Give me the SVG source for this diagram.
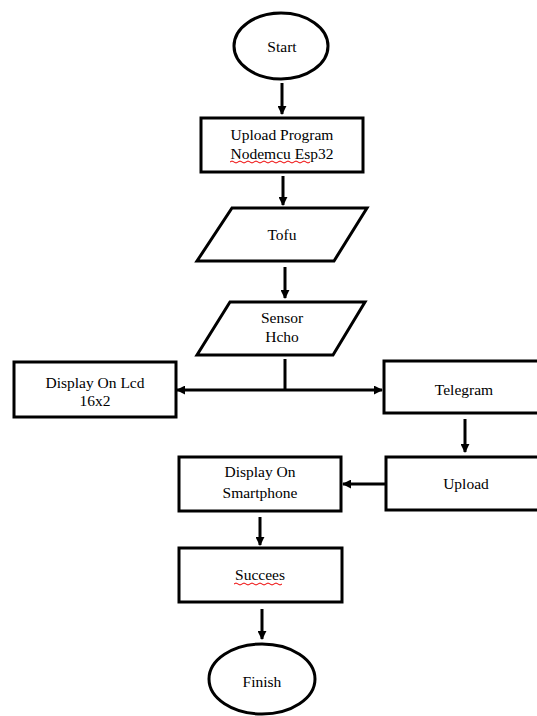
<svg xmlns="http://www.w3.org/2000/svg" width="537" height="716" viewBox="0 0 537 716">
<defs>
<marker id="ah" viewBox="0 0 10 10" refX="9" refY="5" markerWidth="3" markerHeight="3" orient="auto" markerUnits="strokeWidth">
<path d="M0,0 L10,5 L0,10 z" fill="#000"/>
</marker>
<style>
.s{fill:#fff;stroke:#000;stroke-width:3}
.t{font-family:"Liberation Serif","Times New Roman",serif;font-size:15.5px;fill:#000;text-anchor:middle}
.c{stroke:#000;stroke-width:3;fill:none}
.a{stroke:#000;stroke-width:3;fill:none;marker-end:url(#ah)}
.w{stroke:#e00;stroke-width:1;fill:none}
</style>
</defs>
<rect width="537" height="716" fill="#fff"/>
<g id="connectors">
<line class="a" x1="282" y1="83" x2="282" y2="114"/>
<line class="a" x1="283" y1="176" x2="283" y2="205"/>
<line class="a" x1="285" y1="267" x2="285" y2="298"/>
<line class="c" x1="285" y1="359" x2="285" y2="390"/>
<line class="a" x1="285" y1="390" x2="177" y2="390"/>
<line class="a" x1="285" y1="390" x2="382" y2="390"/>
<line class="a" x1="465" y1="419" x2="465" y2="452"/>
<line class="a" x1="386" y1="484" x2="343" y2="484"/>
<line class="a" x1="260" y1="517" x2="260" y2="545"/>
<line class="a" x1="262" y1="609" x2="262" y2="639"/>
</g>
<g id="start">
<ellipse class="s" cx="281" cy="46" rx="47" ry="33"/>
<text class="t" x="282" y="52">Start</text>
</g>
<g id="upload-program">
<rect class="s" x="201" y="118" width="162" height="54"/>
<text class="t" x="282" y="140">Upload Program</text>
<text class="t" x="282" y="159">Nodemcu Esp32</text>
<path class="w" d="M230,162 q2,-2 4,0 t4,0 t4,0 t4,0 t4,0 t4,0 t4,0 t4,0 t4,0 t4,0 t4,0 t4,0 t4,0 t4,0 t4,0 t4,0 t4,0 t4,0 t4,0 t4,0"/>
</g>
<g id="tofu">
<polygon class="s" points="232,208 367,208 334,261 197,261"/>
<text class="t" x="282" y="240">Tofu</text>
</g>
<g id="sensor">
<polygon class="s" points="230,302 365,302 333,355 197,355"/>
<text class="t" x="282" y="323">Sensor</text>
<text class="t" x="282" y="342">Hcho</text>
</g>
<g id="lcd">
<rect class="s" x="14" y="362" width="162" height="55"/>
<text class="t" x="95" y="388">Display On Lcd</text>
<text class="t" x="95" y="406">16x2</text>
</g>
<g id="telegram">
<rect class="s" x="384" y="361" width="160" height="52"/>
<text class="t" x="464" y="395">Telegram</text>
</g>
<g id="upload">
<rect class="s" x="386" y="457" width="160" height="53"/>
<text class="t" x="466" y="489">Upload</text>
</g>
<g id="smartphone">
<rect class="s" x="179" y="457" width="162" height="54"/>
<text class="t" x="260" y="477">Display On</text>
<text class="t" x="260" y="498">Smartphone</text>
</g>
<g id="succees">
<rect class="s" x="179" y="548" width="163" height="54"/>
<text class="t" x="260" y="580">Succees</text>
<path class="w" d="M234,584 q2,-2 4,0 t4,0 t4,0 t4,0 t4,0 t4,0 t4,0 t4,0 t4,0 t4,0 t4,0 t4,0"/>
</g>
<g id="finish">
<ellipse class="s" cx="262" cy="679" rx="53" ry="35"/>
<text class="t" x="262" y="687">Finish</text>
</g>
</svg>
